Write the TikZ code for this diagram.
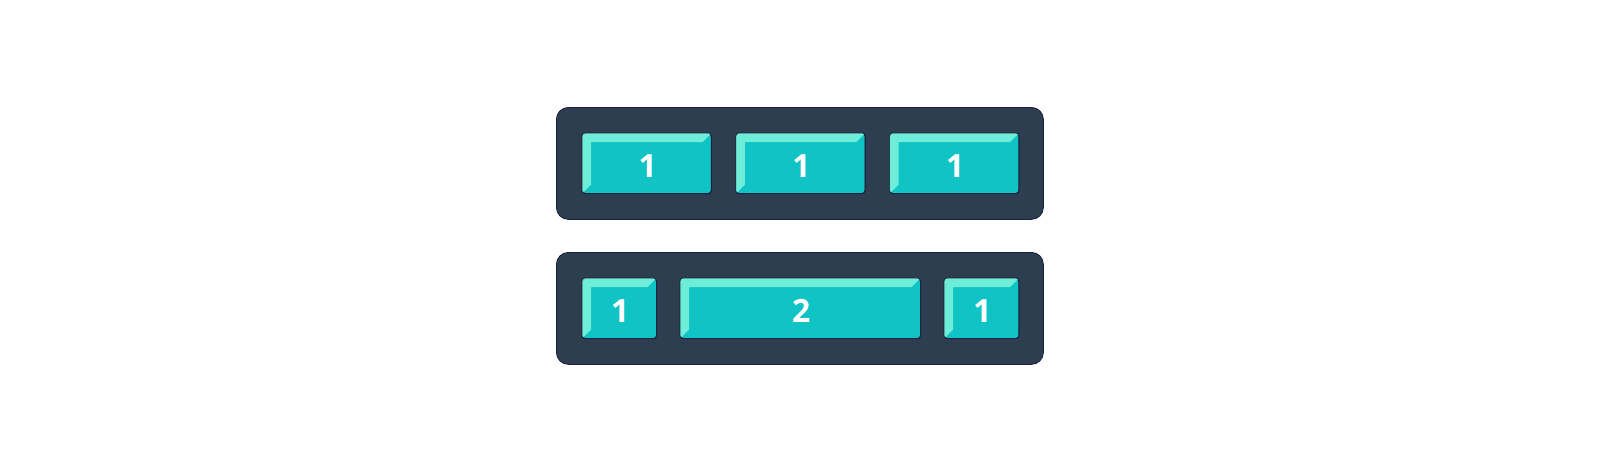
\documentclass[tikz,border=0pt]{standalone}
\usepackage{fontspec}
\setmainfont{Open Sans}
\usetikzlibrary{calc}
\definecolor{panel}{HTML}{2D3E50}
\definecolor{outl}{HTML}{1C1D3C}
\definecolor{tealc}{HTML}{10C3C5}
\definecolor{lightc}{HTML}{6EEDD8}
\tikzset{
  panelbox/.style={draw=outl, line width=0.8pt, fill=panel, rounded corners=12pt,
    anchor=north west, inner sep=0pt, minimum height=112pt, minimum width=487pt},
  cellbox/.style={draw=outl, line width=0.7pt, fill=tealc, rounded corners=3pt,
    anchor=north west, inner sep=0pt, minimum height=60pt},
  bevel/.style={fill=lightc},
  celltext/.style={text=white, font=\fontsize{32}{38}\selectfont\bfseries, inner sep=0pt}
}
\newcommand\bevcell[5]{%
  \node[cellbox, minimum width=#4pt] (#1) at (#2,#3) {};
  \begin{scope}
    \clip[rounded corners=3pt] (#1.north west) rectangle (#1.south east);
    \fill[bevel] (#1.south west) -- (#1.north west) -- (#1.north east) -- ++(-9,9)
      -- ($(#1.north west)+(9,9)$) -- ($(#1.south west)+(9,-9)$) -- cycle;
  \end{scope}
  \draw[outl, line width=0.7pt, rounded corners=3pt] (#1.north west) rectangle (#1.south east);
  \node[celltext] (#1t) at ($(#1.center)+(1,3)$) {#5};
}
\begin{document}
\begin{tikzpicture}[x=1pt, y=-1pt]
\useasboundingbox (0,0) rectangle (1600,472);
\node[panelbox] (p1) at (556,107) {};
\node[panelbox] (p2) at (556,252) {};
\bevcell{a1}{582}{133}{128.8}{1}
\bevcell{a2}{735.8}{133}{128.8}{1}
\bevcell{a3}{889.6}{133}{128.8}{1}
\bevcell{b1}{582}{278}{74}{1}
\bevcell{b2}{680}{278}{240}{2}
\bevcell{b3}{944}{278}{74.4}{1}
\end{tikzpicture}
\end{document}
